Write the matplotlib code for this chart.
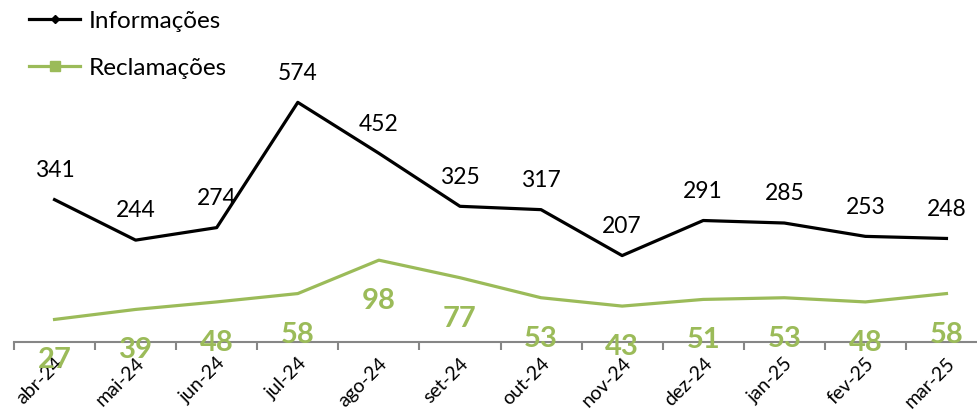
import matplotlib
matplotlib.use("Agg")
import matplotlib.pyplot as plt
from matplotlib.lines import Line2D

meses = ["abr-24", "mai-24", "jun-24", "jul-24", "ago-24", "set-24",
         "out-24", "nov-24", "dez-24", "jan-25", "fev-25", "mar-25"]
informacoes = [341, 244, 274, 574, 452, 325, 317, 207, 291, 285, 253, 248]
reclamacoes = [27, 39, 48, 58, 98, 77, 53, 43, 51, 53, 48, 58]

verde = "#9BBB59"
cinza = "#868686"
plt.rcParams['font.family'] = ['Lato', 'DejaVu Sans']

fig = plt.figure(figsize=(9.77, 4.12), dpi=100)
ax = fig.add_axes([14/977, 70/412, 973/977, 334/412])
ax2 = ax.twinx()

x = list(range(len(meses)))
ax.plot(x, informacoes, color="black", lw=2.3)
ax2.plot(x, reclamacoes, color=verde, lw=2.3)

ax.set_xlim(-0.5, 11.5)
ax.set_ylim(0, 800)
ax2.set_ylim(0, 400)

# rótulos de dados
for i, v in enumerate(informacoes):
    ax.annotate(str(v), (i, v), xytext=(0, 21), textcoords="offset points",
                ha="center", va="center", fontsize=16.5, color="black")
for i, v in enumerate(reclamacoes):
    ax2.annotate(str(v), (i, v), xytext=(0, -29.5), textcoords="offset points",
                 ha="center", va="center", fontsize=21, fontweight="bold", color=verde)

for a in (ax, ax2):
    for s in ["top", "right", "left"]:
        a.spines[s].set_visible(False)
    a.set_yticks([])
ax2.spines["bottom"].set_visible(False)
ax.spines["bottom"].set_color(cinza)
ax.spines["bottom"].set_linewidth(1.5)

ax.set_xticks([i - 0.5 for i in range(len(meses) + 1)], minor=False)
ax.set_xticklabels([""] * (len(meses) + 1))
ax.tick_params(axis="x", direction="out", length=6, width=1.5, color=cinza)
ax.set_xticks(x, minor=True)
ax.set_xticklabels(meses, minor=True, rotation=45, ha="right", va="top",
                   rotation_mode="anchor", fontsize=14)
ax.tick_params(axis="x", which="minor", length=0, pad=9)

handles = [Line2D([], [], color="black", lw=2.3, marker="D", markersize=4),
           Line2D([], [], color=verde, lw=2.3, marker="s", markersize=7)]
ax.legend(handles, ["Informações", "Reclamações"], loc="upper left",
          bbox_to_anchor=(-0.007, 1.057), frameon=False, fontsize=17.5,
          handlelength=2.1, labelspacing=1.07, handletextpad=0.35)

fig.savefig("out.png", dpi=100)
